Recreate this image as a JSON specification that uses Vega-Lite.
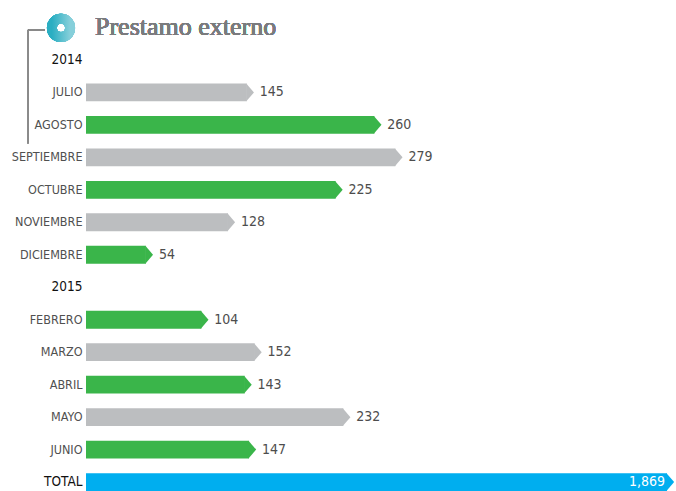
{
  "$schema": "https://vega.github.io/schema/vega-lite/v6.json",
  "width": 590,
  "height": 440,
  "autosize": {"type": "none"},
  "padding": {"left": 86, "top": 51, "right": 0, "bottom": 0},
  "background": "white",
  "config": {"view": {"stroke": null}, "font": "DejaVu Sans Condensed, Roboto"},
  "datasets": {
    "meses": [
      {"periodo": "JULIO", "monto": 145, "grupo": "gris"},
      {"periodo": "AGOSTO", "monto": 260, "grupo": "verde"},
      {"periodo": "SEPTIEMBRE", "monto": 279, "grupo": "gris"},
      {"periodo": "OCTUBRE", "monto": 225, "grupo": "verde"},
      {"periodo": "NOVIEMBRE", "monto": 128, "grupo": "gris"},
      {"periodo": "DICIEMBRE", "monto": 54, "grupo": "verde"},
      {"periodo": "FEBRERO", "monto": 104, "grupo": "verde"},
      {"periodo": "MARZO", "monto": 152, "grupo": "gris"},
      {"periodo": "ABRIL", "monto": 143, "grupo": "verde"},
      {"periodo": "MAYO", "monto": 232, "grupo": "gris"},
      {"periodo": "JUNIO", "monto": 147, "grupo": "verde"}
    ],
    "total": [
      {"periodo": "TOTAL", "monto": 1869}
    ]
  },
  "resolve": {"scale": {"x": "independent"}},
  "layer": [
    {
      "data": {"name": "meses"},
      "encoding": {
        "y": {
          "field": "periodo",
          "type": "nominal",
          "title": null,
          "scale": {
            "domain": ["2014", "JULIO", "AGOSTO", "SEPTIEMBRE", "OCTUBRE", "NOVIEMBRE", "DICIEMBRE", "2015", "FEBRERO", "MARZO", "ABRIL", "MAYO", "JUNIO", "TOTAL"],
            "paddingInner": 0.45,
            "paddingOuter": 0
          },
          "axis": {
            "domain": false,
            "ticks": false,
            "grid": false,
            "labelPadding": 4,
            "labelFont": "DejaVu Sans Condensed, Roboto",
            "labelFontSize": {"condition": {"test": "indexof(['2014','2015','TOTAL'], datum.value) >= 0", "value": 13.5}, "value": 12.5},
            "labelFontWeight": "normal",
            "labelColor": {"condition": {"test": "indexof(['2014','2015','TOTAL'], datum.value) >= 0", "value": "#111111"}, "value": "#505050"}
          }
        }
      },
      "layer": [
        {
          "mark": {"type": "bar", "cornerRadius": 0},
          "encoding": {
            "x": {"field": "monto", "type": "quantitative", "axis": null, "scale": {"domain": [0, 532], "nice": false, "zero": true}},
            "color": {"field": "grupo", "type": "nominal", "legend": null, "scale": {"domain": ["gris", "verde"], "range": ["#BCBEC0", "#3AB54A"]}}
          }
        },
        {
          "mark": {"type": "point", "shape": "M-0.06,-1L0.8,0L-0.06,1Z", "filled": true, "size": 319, "opacity": 1, "strokeWidth": 0},
          "encoding": {
            "x": {"field": "monto", "type": "quantitative"},
            "color": {"field": "grupo", "type": "nominal", "legend": null}
          }
        },
        {
          "mark": {"type": "text", "align": "left", "baseline": "middle", "dx": 13, "font": "DejaVu Sans Condensed, Roboto", "fontSize": 14, "color": "#4D4D4D"},
          "encoding": {
            "x": {"field": "monto", "type": "quantitative"},
            "text": {"field": "monto", "type": "quantitative", "format": ","}
          }
        },
        {
          "mark": {"type": "rule", "color": "#8A8A8A", "strokeWidth": 1, "xOffset": -58, "x2Offset": -41, "yOffset": -30},
          "encoding": {
            "x": {"datum": 0, "type": "quantitative"},
            "x2": {"datum": 0},
            "y": {"datum": "2014", "type": "nominal"}
          }
        },
        {
          "mark": {"type": "rule", "color": "#8A8A8A", "strokeWidth": 1, "xOffset": -58, "yOffset": -30, "y2Offset": -14},
          "encoding": {
            "x": {"datum": 0, "type": "quantitative"},
            "y": {"datum": "2014", "type": "nominal"},
            "y2": {"datum": "SEPTIEMBRE"}
          }
        },
        {
          "mark": {
            "type": "point",
            "shape": "circle",
            "filled": false,
            "size": 330,
            "strokeWidth": 10,
            "opacity": 1,
            "xOffset": -25,
            "yOffset": -32,
            "stroke": {
              "gradient": "linear",
              "x1": 0, "y1": 0, "x2": 1, "y2": 0,
              "stops": [{"offset": 0, "color": "#2AAEC2"}, {"offset": 1, "color": "#86CFDA"}]
            }
          },
          "encoding": {
            "x": {"datum": 0, "type": "quantitative"},
            "y": {"datum": "2014", "type": "nominal"}
          }
        },
        {
          "mark": {"type": "text", "text": "Prestamo externo", "align": "left", "baseline": "alphabetic", "xOffset": 9, "yOffset": -25, "font": "Liberation Serif", "fontSize": 26, "fontWeight": "normal", "color": "#7A7B7E"},
          "encoding": {
            "x": {"datum": 0, "type": "quantitative"},
            "y": {"datum": "2014", "type": "nominal"}
          }
        }
      ]
    },
    {
      "data": {"name": "total"},
      "encoding": {
        "y": {"field": "periodo", "type": "nominal"},
        "x": {"field": "monto", "type": "quantitative", "axis": null, "scale": {"domain": [0, 1898], "nice": false, "zero": true}}
      },
      "layer": [
        {"mark": {"type": "bar", "color": "#00AEEF"}},
        {"mark": {"type": "point", "shape": "M-0.06,-1L0.8,0L-0.06,1Z", "filled": true, "size": 319, "opacity": 1, "strokeWidth": 0, "color": "#00AEEF"}},
        {
          "mark": {"type": "text", "align": "right", "baseline": "middle", "dx": -2, "font": "DejaVu Sans Condensed, Roboto", "fontSize": 14, "color": "white"},
          "encoding": {"text": {"field": "monto", "type": "quantitative", "format": ","}}
        }
      ]
    }
  ]
}
